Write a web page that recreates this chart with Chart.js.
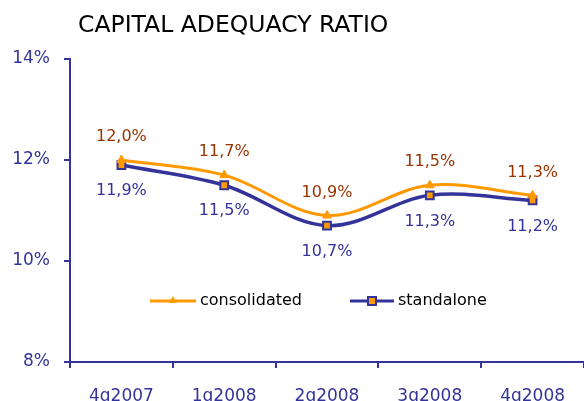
<!DOCTYPE html>
<html>
<head>
<meta charset="utf-8">
<script src="https://cdn.jsdelivr.net/npm/chart.js@4.4.1/dist/chart.umd.min.js"></script>
<style>
  html, body { margin: 0; padding: 0; background: #fff; overflow: hidden; }
  canvas { display: block; }
</style>
</head>
<body>
<canvas id="chart1" width="584" height="401"></canvas>
<script>
var quarters = ["4q2007", "1q2008", "2q2008", "3q2008", "4q2008"];
var consolidated = [12.0, 11.7, 10.9, 11.5, 11.3];
var standalone = [11.9, 11.5, 10.7, 11.3, 11.2];
var yTicks = [8, 10, 12, 14];

var navy = "#333399";
var orange = "#FF9900";
var brown = "#993300";
var fontName = "'DejaVu Sans', Verdana, sans-serif";

function pct(v){
    return v.toFixed(1).replace(".", ",") + "%";
}

// title, point labels and the legend inside the plot
var extras = {
    id: "extras",
    afterDatasetsDraw: function(chart){
        var ctx = chart.ctx;
        ctx.save();

        ctx.fillStyle = "#000";
        ctx.font = "23.5px " + fontName;
        ctx.textAlign = "left";
        ctx.textBaseline = "alphabetic";
        ctx.fillText("CAPITAL ADEQUACY RATIO", 78, 32);

        ctx.font = "16px " + fontName;
        ctx.textAlign = "center";
        ctx.textBaseline = "middle";
        chart.getDatasetMeta(0).data.forEach(function(pt, i){
            ctx.fillStyle = brown;
            ctx.fillText(pct(consolidated[i]), pt.x, pt.y - 23);
        });
        chart.getDatasetMeta(1).data.forEach(function(pt, i){
            ctx.fillStyle = navy;
            ctx.fillText(pct(standalone[i]), pt.x, pt.y + 26);
        });

        var items = [
            {label: "consolidated", x1: 150, x2: 196, color: orange, style: "triangle"},
            {label: "standalone", x1: 350, x2: 394, color: navy, style: "rect"}
        ];
        var ly = 301;
        items.forEach(function(it){
            ctx.strokeStyle = it.color;
            ctx.lineWidth = 3;
            ctx.beginPath();
            ctx.moveTo(it.x1, ly);
            ctx.lineTo(it.x2, ly);
            ctx.stroke();
            var mx = (it.x1 + it.x2) / 2;
            if (it.style === "triangle") {
                ctx.fillStyle = orange;
                ctx.beginPath();
                ctx.moveTo(mx, ly - 5);
                ctx.lineTo(mx + 4, ly + 2);
                ctx.lineTo(mx - 4, ly + 2);
                ctx.closePath();
                ctx.fill();
            } else {
                ctx.fillStyle = orange;
                ctx.strokeStyle = navy;
                ctx.lineWidth = 2;
                ctx.fillRect(mx - 4, ly - 4, 8, 8);
                ctx.strokeRect(mx - 4, ly - 4, 8, 8);
            }
            ctx.fillStyle = "#000";
            ctx.textAlign = "left";
            ctx.textBaseline = "middle";
            ctx.fillText(it.label, it.x2 + 4, ly);
        });
        ctx.restore();
    }
};

var ctx = document.getElementById("chart1");
var chartGraph = new Chart(ctx, {
    type: "line",
    data: {
        labels: quarters,
        datasets: [
            {
                label: "consolidated",
                data: consolidated,
                borderColor: orange,
                backgroundColor: orange,
                borderWidth: 3,
                tension: 0.35,
                pointStyle: "triangle",
                pointRadius: 5,
                pointBorderWidth: 1,
                pointBorderColor: orange,
                pointBackgroundColor: orange
            },
            {
                label: "standalone",
                data: standalone,
                borderColor: navy,
                backgroundColor: orange,
                borderWidth: 3.5,
                tension: 0.35,
                pointStyle: "rect",
                pointRadius: 5.5,
                pointBorderWidth: 2,
                pointBorderColor: navy,
                pointBackgroundColor: orange
            }
        ]
    },
    options: {
        responsive: false,
        animation: false,
        layout: { autoPadding: false, padding: { top: 59, left: 0, right: 0, bottom: 0 } },
        plugins: {
            legend: { display: false },
            title: { display: false },
            tooltip: { enabled: false }
        },
        scales: {
            x: {
                offset: true,
                grid: { offset: true, drawOnChartArea: false, tickLength: 6, color: navy, lineWidth: 2 },
                border: { color: navy, width: 2 },
                ticks: { color: navy, font: { size: 17, family: fontName }, padding: 18, maxRotation: 0 },
                afterFit: function(scale){
                    scale.height = 39;
                    scale.paddingLeft = 0;
                    scale.paddingRight = 0;
                }
            },
            y: {
                min: 8,
                max: 14,
                afterBuildTicks: function(scale){
                    scale.ticks = yTicks.map(function(v){ return {value: v}; });
                },
                grid: { drawOnChartArea: false, tickLength: 6, color: navy, lineWidth: 2 },
                border: { color: navy, width: 2 },
                ticks: {
                    color: navy,
                    font: { size: 17, family: fontName },
                    padding: 14,
                    callback: function(v){ return v + "%"; }
                },
                afterFit: function(scale){
                    scale.width = 70;
                    scale.paddingTop = 0;
                    scale.paddingBottom = 0;
                }
            }
        }
    },
    plugins: [extras]
});
</script>
</body>
</html>
